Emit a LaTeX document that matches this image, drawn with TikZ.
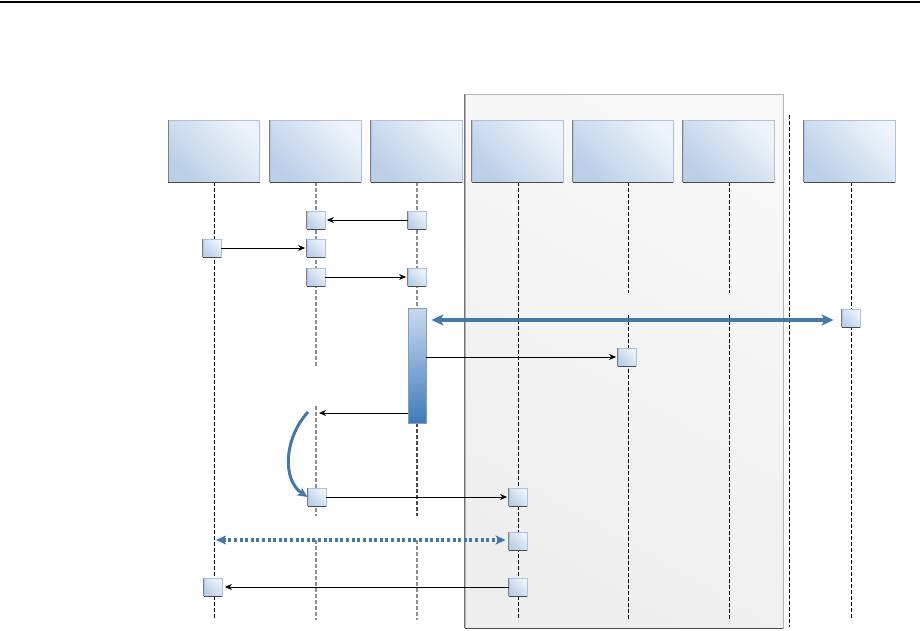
\documentclass[tikz,border=0pt]{standalone}
\usetikzlibrary{arrows.meta,calc}
\definecolor{boxlight}{HTML}{EEF3FA}
\definecolor{boxdark}{HTML}{BACFE8}
\definecolor{boxborder}{HTML}{A9C3E0}
\definecolor{bartop}{HTML}{C9DAEE}
\definecolor{barbot}{HTML}{3E7BBD}
\definecolor{flowblue}{HTML}{4677AB}
\definecolor{edgedark}{HTML}{4A4A4A}
\definecolor{panellight}{HTML}{F8F8F8}
\definecolor{paneldark}{HTML}{EEEEEE}
\definecolor{lifegray}{HTML}{8E8E8E}
\begin{document}
\begin{tikzpicture}[x=1pt,y=-1pt,
  hdr/.style={draw=boxborder, line width=0.8pt, inner sep=0pt, minimum height=62pt,
    shading=axis, bottom color=boxdark, top color=boxlight, shading angle=-45},
  sbox/.style={draw=boxborder, line width=0.8pt, inner sep=0pt, minimum width=18pt, minimum height=18pt,
    shading=axis, bottom color=boxdark, top color=boxlight, shading angle=-45},
  actbar/.style={draw=boxborder!80!black, line width=0.8pt, inner sep=0pt, minimum width=18pt, minimum height=115pt,
    shading=axis, top color=bartop, bottom color=barbot},
  lifeB/.style={black, line width=1pt, dash pattern=on 3.5pt off 2.5pt},
  lifeG/.style={lifegray, line width=1.3pt, dash pattern=on 3.5pt off 2.5pt},
  lifeD/.style={edgedark, line width=1.1pt, dash pattern=on 3.5pt off 2.5pt},
  msg/.style={black, line width=0.9pt, -{Stealth[length=7pt,width=6pt]}, shorten >=1.5pt},
  bigflow/.style={flowblue, line width=4pt, {Stealth[length=12pt,width=11pt,inset=3pt]}-{Stealth[length=12pt,width=11pt,inset=3pt]}},
  dotflow/.style={flowblue, line width=3.2pt, dash pattern=on 3pt off 2.6pt, {Stealth[length=10pt,width=9pt,inset=2.5pt]}-{Stealth[length=10pt,width=9pt,inset=2.5pt]}},
  curveflow/.style={flowblue, line width=3pt, -{Stealth[length=10pt,width=9pt,inset=2.5pt]}},
  darkedge/.style={edgedark, line width=1.3pt},
  sideedge/.style={edgedark!70, line width=0.8pt}
]
\useasboundingbox (0,0) rectangle (924,630);
% top rule
\draw[black, line width=2pt] (0,1.5) -- (920,1.5);

% panel
\node[draw=black!30, line width=0.8pt, inner sep=0pt, minimum width=318pt, minimum height=534pt,
  shading=axis, top color=panellight, bottom color=paneldark, shading angle=-30] (panel) at (624,361) {};
\draw[darkedge] (panel.south west) -- (panel.south east);
\draw[sideedge, black!55] (panel.south west) -- (panel.north west);

% header boxes
\node[hdr, minimum width=91pt] (h1) at (214,151) {};
\node[hdr, minimum width=91pt] (h2) at (315.5,151) {};
\node[hdr, minimum width=91pt] (h3) at (416.5,151) {};
\node[hdr, minimum width=91pt] (h4) at (517.5,151) {};
\node[hdr, minimum width=100pt] (h5) at (623,151) {};
\node[hdr, minimum width=91pt] (h6) at (728.5,151) {};
\node[hdr, minimum width=91pt] (h7) at (849.5,151) {};

% lifeline coordinates
\coordinate (l1e) at (214,620);
\coordinate (l2a) at (316,368); \coordinate (l2b) at (316,406); \coordinate (l2c) at (316,516);
\coordinate (l2d) at (316,540); \coordinate (l2e) at (316,620);
\coordinate (l3c) at (417,516); \coordinate (l3d) at (417,540); \coordinate (l3e) at (417,620);
\coordinate (l4e) at (518,620);
\coordinate (l5a) at (628,293); \coordinate (l5b) at (628,315); \coordinate (l5e) at (628,620);
\coordinate (l6a) at (729,293); \coordinate (l6b) at (729,315); \coordinate (l6e) at (729,620);
\coordinate (l7e) at (851,620);
\coordinate (sepa) at (789,115); \coordinate (sepe) at (789,627);

% activation bar
\node[actbar] (bar) at (417,365.5) {};

% lifelines
\draw[lifeB] (h1.south -| l1e) -- (l1e);
\draw[lifeG] (h2.south -| l2a) -- (l2a);
\draw[lifeG] (l2b) -- (l2c);
\draw[lifeG] (l2d) -- (l2e);
\draw[lifeG] (h3.south -| bar.north) -- (bar.north);
\draw[lifeD] (bar.south) -- (l3c);
\draw[lifeG] (l3d) -- (l3e);
\draw[lifeB] (h4.south -| l4e) -- (l4e);
\draw[lifeB] (h5.south -| l5a) -- (l5a);
\draw[lifeB] (l5b) -- (l5e);
\draw[lifeB] (h6.south -| l6a) -- (l6a);
\draw[lifeB] (l6b) -- (l6e);
\draw[lifeB] (h7.south -| l7e) -- (l7e);
\draw[lifeB] (sepa) -- (sepe);

% redraw bar on top
\node[actbar] (bar) at (417,365.5) {};

% small boxes
\node[sbox] (b1) at (316,220) {};
\node[sbox] (b2) at (417,220) {};
\node[sbox] (b3) at (212,248) {};
\node[sbox] (b4) at (316,248) {};
\node[sbox] (b5) at (316,277) {};
\node[sbox] (b6) at (417,277) {};
\node[sbox] (b7) at (851,318) {};
\node[sbox] (b8) at (627,357) {};
\node[sbox] (b9) at (317,497) {};
\node[sbox] (b10) at (518,497) {};
\node[sbox] (b11) at (518,541) {};
\node[sbox] (b12) at (213,587) {};
\node[sbox] (b13) at (518,587) {};

% dark edges
\foreach \n in {h1,h2,h3,h4,h5,h6,h7,b1,b2,b3,b4,b5,b6,b7,b8,b9,b10,b11,b12,b13} {
  \draw[darkedge] (\n.south west) -- (\n.south east);
  \draw[sideedge] (\n.south west) -- (\n.north west);
}

% messages
\draw[msg] (b2) -- (b1);
\draw[msg] (b3) -- (b4);
\draw[msg] (b5) -- (b6);
\draw[bigflow, shorten <=5pt, shorten >=8pt] (bar.east |- 0,320) -- (b7.west |- 0,320);
\draw[msg] (bar.east |- b8) -- (b8);
\coordinate (r1) at (319,413);
\draw[msg, shorten >=0pt] (bar.west |- r1) -- (r1);
\coordinate (c0) at (308,412);
\draw[curveflow] (c0) .. controls (284,438) and (282,480) .. (b9.west);
\draw[msg] (b9) -- (b10);
\coordinate (d0) at (216,540);
\draw[dotflow, shorten >=3pt] (d0) -- (b11.west |- d0);
\draw[msg, shorten >=2.5pt] (b13) -- (b12);
\end{tikzpicture}
\end{document}
